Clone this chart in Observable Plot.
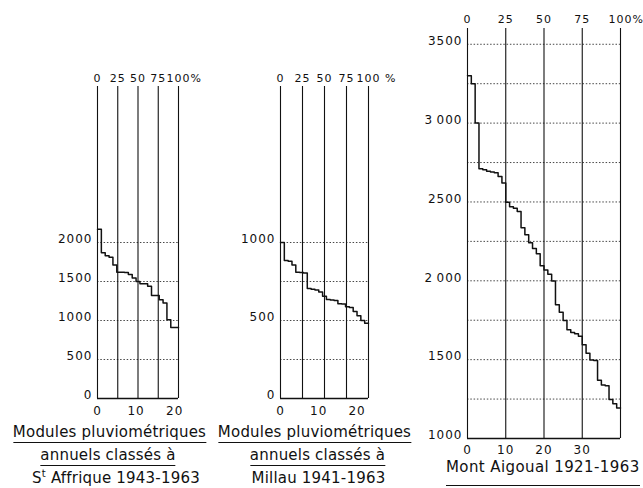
<!DOCTYPE html>
<html><head><meta charset="utf-8">
<script src="https://cdn.jsdelivr.net/npm/d3@7"></script>
<script src="https://cdn.jsdelivr.net/npm/@observablehq/plot@0.6"></script>
<style>
body{margin:0;background:#fff;}
#wrap{position:relative;width:643px;height:488px;overflow:hidden;font-family:"DejaVu Sans",sans-serif;background:#fff;}
#wrap svg{position:absolute;left:0;top:0;}
.cap{position:absolute;white-space:nowrap;font-size:15px;letter-spacing:0.2px;line-height:15px;color:#111;}
.c{transform:translateX(-50%);}
.cap span.u{display:inline-block;border-bottom:1.5px solid #111;}
.cap sup{font-size:10px;vertical-align:6px;line-height:0;}
</style></head><body>
<div id="wrap">
  <div class="cap c" style="left:109.5px;top:425.3px"><span class="u" style="padding-bottom:1.5px">Modules pluviométriques</span></div>
  <div class="cap c" style="left:108px;top:448.3px"><span class="u" style="padding-bottom:1.5px">annuels classés à</span></div>
  <div class="cap c" style="left:116px;top:470.5px"><span>S<sup>t</sup> Affrique 1943-1963</span></div>
  <div class="cap c" style="left:314.5px;top:425.3px"><span class="u" style="padding-bottom:1.5px">Modules pluviométriques</span></div>
  <div class="cap c" style="left:317.5px;top:448.3px"><span class="u" style="padding-bottom:1.5px">annuels classés à</span></div>
  <div class="cap c" style="left:318.5px;top:470.5px"><span>Millau 1941-1963</span></div>
  <div class="cap" style="left:446px;top:459.5px;font-size:15px;letter-spacing:0.4px;line-height:15px"><span class="u" style="padding-bottom:10px">Mont Aigoual 1921-1963</span></div>
</div>
<script>
// Percentage reference lines (share of the ranked years)
const pctTicks = [0, 25, 50, 75, 100];
const pctLabels = ["0", "25", "50", "75", "100"];

// St Affrique 1943-1963: annual rainfall (mm), ranked
const stAffriqueValues = [2170, 1870, 1830, 1810, 1710, 1620, 1620, 1615, 1590, 1545, 1500,
  1470, 1470, 1440, 1320, 1320, 1265, 1225, 1010, 910, 910];
const stAffriqueYTicks = [0, 500, 1000, 1500, 2000];
const stAffriqueYLabels = ["0", "500", "1000", "1500", "2000"];
const stAffriqueGrid = [500, 1000, 1500, 2000];
const stAffriqueXTicks = [0, 10, 20];

// Millau 1941-1963
const millauValues = [1000, 885, 880, 855, 810, 808, 805, 705, 700, 695, 682, 655,
  635, 632, 628, 608, 605, 588, 584, 558, 530, 500, 482];
const millauYTicks = [0, 500, 1000];
const millauYLabels = ["0", "500", "1000"];
const millauGrid = [250, 500, 750, 1000];
const millauXTicks = [0, 10, 20];

// Mont Aigoual 1921-1963
const aigoualValues = [3300, 3250, 3000, 2710, 2705, 2695, 2690, 2685, 2662, 2620,
  2498, 2470, 2460, 2440, 2336, 2292, 2242, 2205, 2172, 2095, 2068, 2042, 1998,
  1848, 1800, 1748, 1690, 1672, 1665, 1648, 1595, 1540, 1498, 1495, 1370, 1340,
  1335, 1248, 1220, 1193];
const aigoualYTicks = [1000, 1500, 2000, 2500, 3000, 3500];
const aigoualYLabels = ["1000", "1500", "2\u2009000", "2500", "3\u2009000", "3500"];
const aigoualGrid = [1250, 1500, 1750, 2000, 2250, 2500, 2750, 3000, 3250, 3500];
const aigoualXTicks = [0, 10, 20, 30];

function panel({values, yDomain, yTicks, yLabels, grid, xTicks, pctSuffix, margins, xPad, yDy, topDy}) {
  const n = values.length;
  const data = values.map((v, i) => ({rank: i, value: v}));
  data.push({rank: n, value: values[n - 1]});
  const labelMap = new Map(yTicks.map((t, i) => [t, yLabels[i]]));
  const [yMin, yMax] = yDomain;
  return Plot.plot({
    width: 643, height: 488,
    marginLeft: margins[0], marginRight: margins[1], marginTop: margins[2], marginBottom: margins[3],
    x: {domain: [0, n], label: null},
    y: {domain: yDomain, label: null},
    style: {background: "transparent", fontFamily: "DejaVu Sans, sans-serif", fontSize: "12px", letterSpacing: "1px", color: "#111", overflow: "visible"},
    marks: [
      Plot.ruleY(grid, {x1: 0, x2: n, stroke: "#333", strokeWidth: 0.9, strokeDasharray: "1.5,1.8"}),
      Plot.ruleX(pctTicks, {x: p => p / 100 * n, stroke: "#111", strokeWidth: 1.1}),
      Plot.ruleY([yMin], {x1: 0, x2: n, stroke: "#111", strokeWidth: 1.3}),
      Plot.line(data, {x: "rank", y: "value", curve: "step-after", stroke: "#111", strokeWidth: 1.5}),
      Plot.axisY(yTicks, {tickSize: 0, tickPadding: 5, dy: yDy, label: null, tickFormat: d => labelMap.get(d), fill: "#111"}),
      Plot.axisX(xTicks, {tickSize: 0, tickPadding: xPad, label: null, fill: "#111"}),
      Plot.text(pctTicks, {x: p => p / 100 * n, y: yMax, text: (p, i) => pctLabels[i], dy: topDy, fill: "#111", fontSize: 11, style: "letter-spacing:0"}),
      Plot.text([pctSuffix], {x: n, y: yMax, text: d => d, dx: 12, dy: topDy, textAnchor: "start", fontSize: 11, fill: "#111", style: "letter-spacing:0"})
    ]
  });
}

const wrap = document.getElementById("wrap");
wrap.appendChild(panel({values: stAffriqueValues, yDomain: [0, 4000], yTicks: stAffriqueYTicks, yLabels: stAffriqueYLabels,
  grid: stAffriqueGrid, xTicks: stAffriqueXTicks, pctSuffix: "%", margins: [97, 465, 86, 90], xPad: 8, yDy: -3, topDy: -8}));
wrap.appendChild(panel({values: millauValues, yDomain: [0, 2000], yTicks: millauYTicks, yLabels: millauYLabels,
  grid: millauGrid, xTicks: millauXTicks, pctSuffix: " %", margins: [280, 275, 86, 90], xPad: 8, yDy: -3, topDy: -8}));
wrap.appendChild(panel({values: aigoualValues, yDomain: [1000, 3600], yTicks: aigoualYTicks, yLabels: aigoualYLabels,
  grid: aigoualGrid, xTicks: aigoualXTicks, pctSuffix: "%", margins: [467, 23, 28, 50], xPad: 7, yDy: -3, topDy: -9}));
</script>
</body></html>
